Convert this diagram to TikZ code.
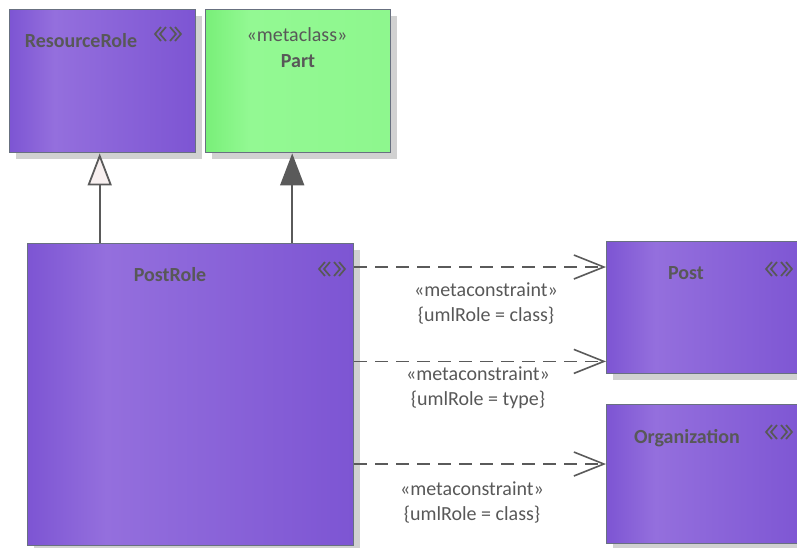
\documentclass[tikz,border=0pt]{standalone}
\usepackage{fontspec}
\setmainfont{Carlito}
\usetikzlibrary{arrows.meta,shadows}

\definecolor{roledark}{HTML}{7D55D3}
\definecolor{rolelight}{HTML}{946FDD}
\definecolor{metadark}{HTML}{79EF79}
\definecolor{metalight}{HTML}{93F993}
\definecolor{edgegrey}{HTML}{687080}
\definecolor{inkgrey}{HTML}{585858}
\definecolor{linegrey}{HTML}{5A5A5A}

\pgfdeclarehorizontalshading{rolefill}{100bp}{color(0bp)=(roledark); color(25bp)=(roledark);
  color(37bp)=(rolelight); color(75bp)=(roledark); color(100bp)=(roledark)}
\pgfdeclarehorizontalshading{metafill}{100bp}{color(0bp)=(metadark); color(25bp)=(metadark);
  color(37bp)=(metalight); color(75bp)=(metalight!80!metadark); color(100bp)=(metalight!80!metadark)}

\tikzset{
  classbox/.style={draw=edgegrey, line width=1.4pt, anchor=north west, inner sep=0pt,
    general shadow={shadow xshift=6pt, shadow yshift=-6pt, fill=black!18}},
  rolebox/.style={classbox, shading=rolefill},
  metabox/.style={classbox, shading=metafill},
  title/.style={font=\fontsize{20}{24}\selectfont\bfseries, text=inkgrey},
  plain/.style={font=\fontsize{20}{25}\selectfont, text=inkgrey, align=center},
  gen/.style={draw=linegrey, line width=1.8pt, -{Triangle[open, length=32pt, width=24pt, fill=black!3!white!97!red]}},
  ext/.style={draw=linegrey, line width=1.8pt, -{Triangle[length=32pt, width=24pt, fill=linegrey]}},
  dep/.style={draw=linegrey, line width=1.6pt, dash pattern=on 13pt off 8pt,
    -{Straight Barb[length=30pt, width=24pt, line width=1.6pt]}},
  stereoicon/.pic={
    \draw[inkgrey, line width=1.7pt]
      (-7,-7) -- (-13,0) -- (-7,7) (-2,-7) -- (-8,0) -- (-2,7)
      (7,-7) -- (13,0) -- (7,7) (2,-7) -- (8,0) -- (2,7);
  }
}

\begin{document}
\begin{tikzpicture}[x=1pt, y=-1pt]
  \useasboundingbox (0,0) rectangle (797,547);
  \clip (0,0) rectangle (797,547);
  % boxes
  \node[rolebox, minimum width=186pt, minimum height=143pt] (ResourceRole) at (9,9) {};
  \node[metabox, minimum width=185pt, minimum height=143pt] (Part) at (205,9) {};
  \node[rolebox, minimum width=326pt, minimum height=302pt] (PostRole) at (27,243) {};
  \node[rolebox, minimum width=202pt, minimum height=132pt] (Post) at (606,241) {};
  \node[rolebox, minimum width=202pt, minimum height=139pt] (Organization) at (606,404) {};
  % names
  \node[title] (rrname) at (81,41) {ResourceRole};
  \node[plain] (partst) at (297,35) {«metaclass»};
  \node[title] (partname) at (298,61) {Part};
  \node[title] (prname) at (170,275) {PostRole};
  \node[title] (postname) at (686,273) {Post};
  \node[title] (orgname) at (687,438) {Organization};
  \pic at (168,34) {stereoicon};
  \pic at (332,269) {stereoicon};
  \pic at (779,269) {stereoicon};
  \pic at (779,432) {stereoicon};
  % generalisation
  \draw[gen] ([xshift=-3pt]ResourceRole.south |- PostRole.north) -- ([xshift=-3pt]ResourceRole.south);
  \draw[ext] ([xshift=-6pt]Part.south |- PostRole.north) -- ([xshift=-6pt]Part.south);
  % metaconstraints
  \coordinate (c1) at ([yshift=-26pt]Post.north west);
  \coordinate (c2) at ([yshift=13pt]Post.south west);
  \coordinate (c3) at ([yshift=-60pt]Organization.north west);
  \draw[dep] (PostRole.east |- c1) -- (c1);
  \draw[dep] (PostRole.east |- c2) -- (c2);
  \draw[dep] (PostRole.east |- c3) -- (c3);
  \node[plain] (lab1) at (486,303) {«metaconstraint»\\\{umlRole = class\}};
  \node[plain] (lab2) at (478,388) {«metaconstraint»\\\{umlRole = type\}};
  \node[plain] (lab3) at (472,502) {«metaconstraint»\\\{umlRole = class\}};
\end{tikzpicture}
\end{document}
